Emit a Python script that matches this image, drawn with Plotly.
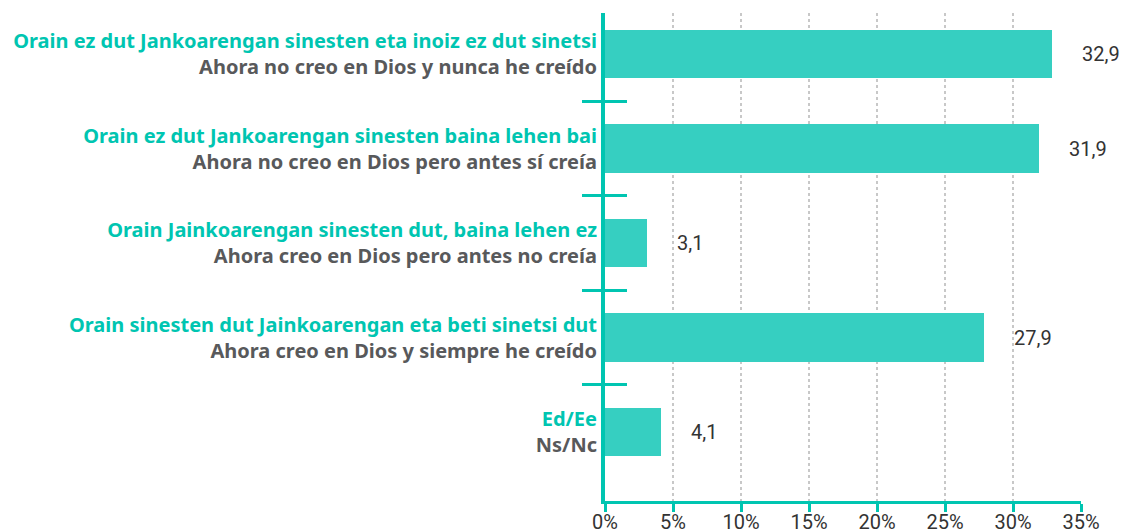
import plotly.graph_objects as go

labels_eu = [
    "Orain ez dut Jankoarengan sinesten eta inoiz ez dut sinetsi",
    "Orain ez dut Jankoarengan sinesten baina lehen bai",
    "Orain Jainkoarengan sinesten dut, baina lehen ez",
    "Orain sinesten dut Jainkoarengan eta beti sinetsi dut",
    "Ed/Ee",
]
labels_es = [
    "Ahora no creo en Dios y nunca he creído",
    "Ahora no creo en Dios pero antes sí creía",
    "Ahora creo en Dios pero antes no creía",
    "Ahora creo en Dios y siempre he creído",
    "Ns/Nc",
]
values = [32.9, 31.9, 3.1, 27.9, 4.1]
x_ticks = [0, 5, 10, 15, 20, 25, 30, 35]

TEAL = "#00c5b1"
BAR = "#36cfc1"
GRAY = "#58595b"
LABEL_FONT = "Noto Sans"
NUM_FONT = "Roboto"

n = len(values)
pos = list(range(n))
ticktext = [
    f"<b><span style='color:{TEAL}'>{a}</span></b><br><b><span style='color:{GRAY}'>{b}</span></b>"
    for a, b in zip(labels_eu, labels_es)
]
boundaries = [i + 0.5 for i in range(n - 1)]
yrange = [4.73, -0.434]

fig = go.Figure()
fig.add_trace(go.Bar(
    x=values, y=pos, orientation="h", marker=dict(color=BAR, line=dict(width=0)),
    width=0.51, hoverinfo="skip", showlegend=False,
))
fig.add_trace(go.Scatter(x=[0], y=[0], yaxis="y2", mode="markers",
                         marker=dict(opacity=0), showlegend=False, hoverinfo="skip"))
fig.add_trace(go.Scatter(x=[0], y=[0], yaxis="y3", mode="markers",
                         marker=dict(opacity=0), showlegend=False, hoverinfo="skip"))

for v, p in zip(values, pos):
    fig.add_annotation(
        x=v, y=p, xref="x", yref="y", text=f"{v:.1f}".replace(".", ","),
        showarrow=False, xanchor="left", xshift=28,
        font=dict(family=NUM_FONT, size=20, color="#333333"),
    )

fig.update_layout(
    width=1126, height=532,
    margin=dict(l=605, r=45, t=13, b=31, autoexpand=False),
    plot_bgcolor="white", paper_bgcolor="white",
    bargap=0,
    xaxis=dict(
        range=[0, 35], tickvals=x_ticks, ticktext=[f"{t}%" for t in x_ticks],
        showgrid=True, gridcolor="#c8c8c8", griddash="dot", gridwidth=2,
        showline=True, linecolor=TEAL, linewidth=3,
        ticks="outside", ticklen=8, tickwidth=3, tickcolor=TEAL,
        tickfont=dict(family=NUM_FONT, size=20, color="#333333"),
        zeroline=False, fixedrange=True, automargin=False,
        ticklabelstandoff=-7,
    ),
    yaxis=dict(
        range=yrange, tickvals=pos, ticktext=ticktext,
        tickfont=dict(family=LABEL_FONT, size=20),
        showline=True, linecolor=TEAL, linewidth=4, automargin=False,
        ticks="", showgrid=False, zeroline=False, ticklabelstandoff=0,
    ),
    yaxis2=dict(
        range=yrange, overlaying="y", side="left", tickvals=boundaries,
        showticklabels=False, ticks="outside", ticklen=22, tickwidth=2.5,
        tickcolor=TEAL, showgrid=False, zeroline=False, showline=False,
        automargin=False,
    ),
    yaxis3=dict(
        range=yrange, overlaying="y", side="left", tickvals=boundaries,
        showticklabels=False, ticks="inside", ticklen=22, tickwidth=2.5,
        tickcolor=TEAL, showgrid=False, zeroline=False, showline=False,
        automargin=False,
    ),
)

fig.write_html("out.html", config={"displayModeBar": False},
               post_script="document.body.style.margin='0px';")
